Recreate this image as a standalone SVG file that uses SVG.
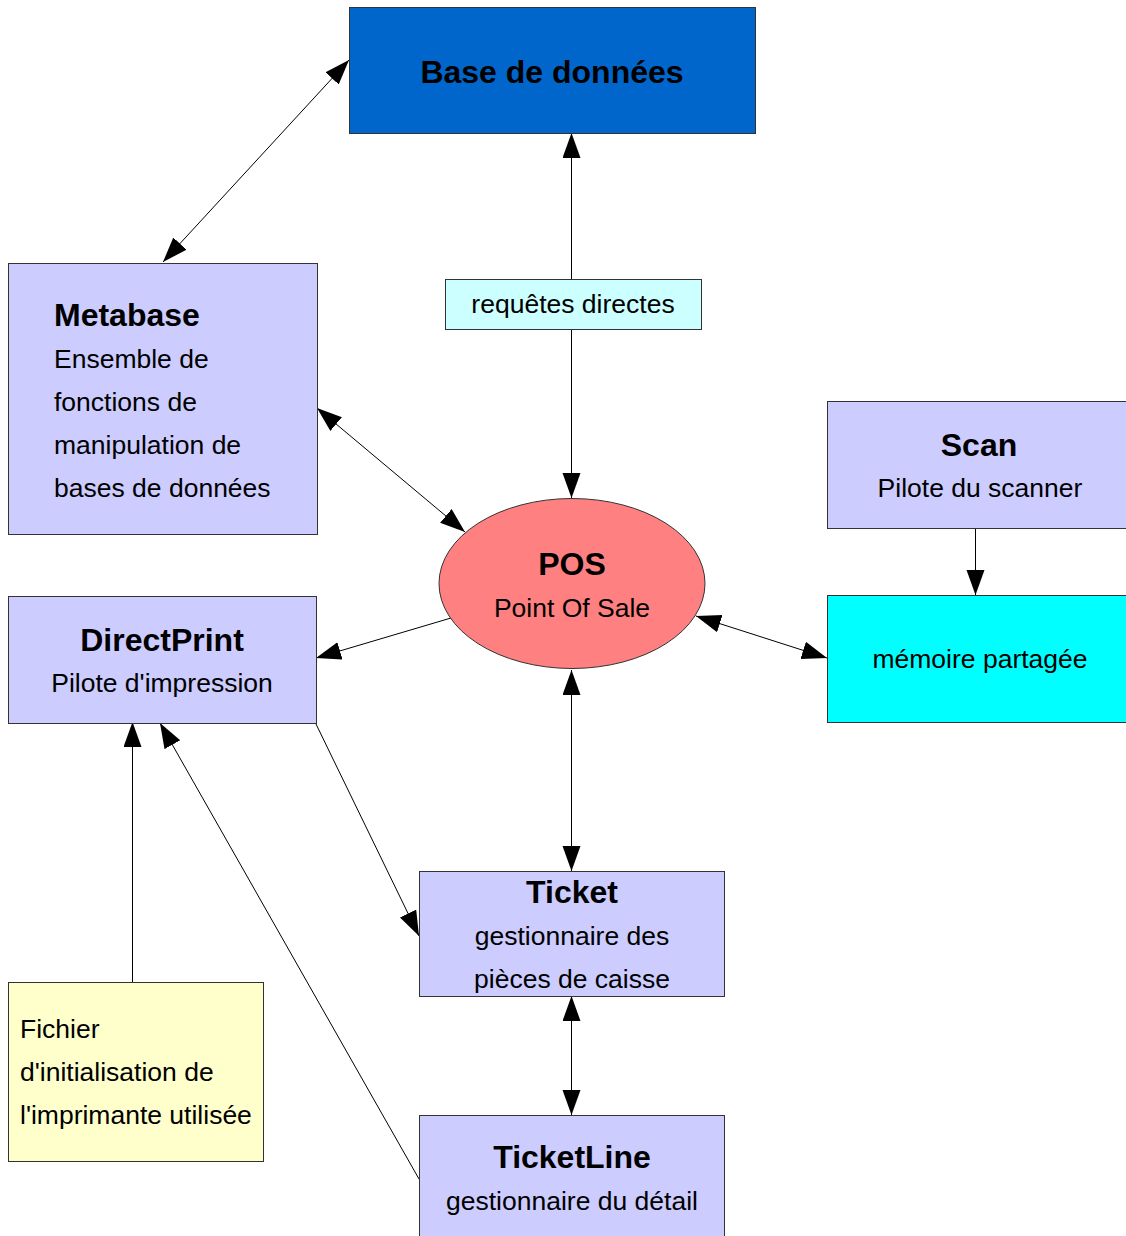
<svg xmlns="http://www.w3.org/2000/svg" width="1126" height="1236" viewBox="0 0 1126 1236">
<defs>
<marker id="ah" markerUnits="userSpaceOnUse" markerWidth="26" markerHeight="20" refX="25" refY="9" orient="auto-start-reverse">
<path d="M0,0 L25,9 L0,18 z" fill="#000"/>
</marker>
<style>
.box{stroke:#333;stroke-width:1}
.t{font-family:"Liberation Sans",Arial,sans-serif;font-size:32px;font-weight:bold;fill:#000}
.b{font-family:"Liberation Sans",Arial,sans-serif;font-size:26.5px;fill:#000}
.c{text-anchor:middle}
.ln{stroke:#000;stroke-width:1;fill:none}
.one{marker-end:url(#ah)}
.two{marker-start:url(#ah);marker-end:url(#ah)}
</style>
</defs>
<rect width="1126" height="1236" fill="#fff"/>
<g id="connectors">
<line class="ln two" x1="163" y1="262" x2="349" y2="60"/>
<line class="ln one" x1="571.5" y1="279" x2="571.5" y2="133"/>
<line class="ln one" x1="571.5" y1="329" x2="571.5" y2="498"/>
<line class="ln two" x1="317" y1="408" x2="465" y2="532"/>
<line class="ln one" x1="451" y1="618" x2="316" y2="658"/>
<line class="ln two" x1="696" y1="616" x2="827" y2="658"/>
<line class="ln one" x1="975.5" y1="528" x2="975.5" y2="595"/>
<line class="ln two" x1="571.5" y1="670" x2="571.5" y2="871"/>
<line class="ln one" x1="316" y1="724" x2="419" y2="936"/>
<line class="ln one" x1="132.5" y1="982" x2="132.5" y2="722"/>
<line class="ln one" x1="419" y1="1179" x2="160" y2="723"/>
<line class="ln two" x1="571.5" y1="996" x2="571.5" y2="1115"/>
</g>
<g id="base">
<rect class="box" x="349.5" y="7.5" width="406" height="126" fill="#0066CC"/>
<text class="t c" x="552" y="83">Base de données</text>
</g>
<g id="metabase">
<rect class="box" x="8.5" y="263.5" width="309" height="271" fill="#CCCCFF"/>
<text class="t" x="54" y="326">Metabase</text>
<text class="b" x="54" y="368">Ensemble de</text>
<text class="b" x="54" y="411">fonctions de</text>
<text class="b" x="54" y="454">manipulation de</text>
<text class="b" x="54" y="497">bases de données</text>
</g>
<g id="requetes">
<rect class="box" x="445.5" y="279.5" width="256" height="50" fill="#CCFFFF"/>
<text class="b c" x="573" y="313">requêtes directes</text>
</g>
<g id="pos">
<ellipse class="box" cx="572" cy="583.5" rx="133" ry="85" fill="#FF8080"/>
<text class="t c" x="572" y="575">POS</text>
<text class="b c" x="572" y="617">Point Of Sale</text>
</g>
<g id="scan">
<rect class="box" x="827.5" y="401.5" width="310" height="127" fill="#CCCCFF"/>
<text class="t c" x="979" y="456">Scan</text>
<text class="b c" x="980" y="497">Pilote du scanner</text>
</g>
<g id="memoire">
<rect class="box" x="827.5" y="595.5" width="310" height="127" fill="#00FFFF"/>
<text class="b c" x="980" y="668">mémoire partagée</text>
</g>
<g id="directprint">
<rect class="box" x="8.5" y="596.5" width="308" height="127" fill="#CCCCFF"/>
<text class="t c" x="162" y="651">DirectPrint</text>
<text class="b c" x="162" y="692">Pilote d'impression</text>
</g>
<g id="ticket">
<rect class="box" x="419.5" y="871.5" width="305" height="125" fill="#CCCCFF"/>
<text class="t c" x="572" y="903">Ticket</text>
<text class="b c" x="572" y="945">gestionnaire des</text>
<text class="b c" x="572" y="988">pièces de caisse</text>
</g>
<g id="ticketline">
<rect class="box" x="419.5" y="1115.5" width="305" height="130" fill="#CCCCFF"/>
<text class="t c" x="572" y="1168">TicketLine</text>
<text class="b c" x="572" y="1210">gestionnaire du détail</text>
</g>
<g id="fichier">
<rect class="box" x="8.5" y="982.5" width="255" height="179" fill="#FFFFCC"/>
<text class="b" x="20" y="1038">Fichier</text>
<text class="b" x="20" y="1081">d'initialisation de</text>
<text class="b" x="20" y="1124">l'imprimante utilisée</text>
</g>
</svg>
